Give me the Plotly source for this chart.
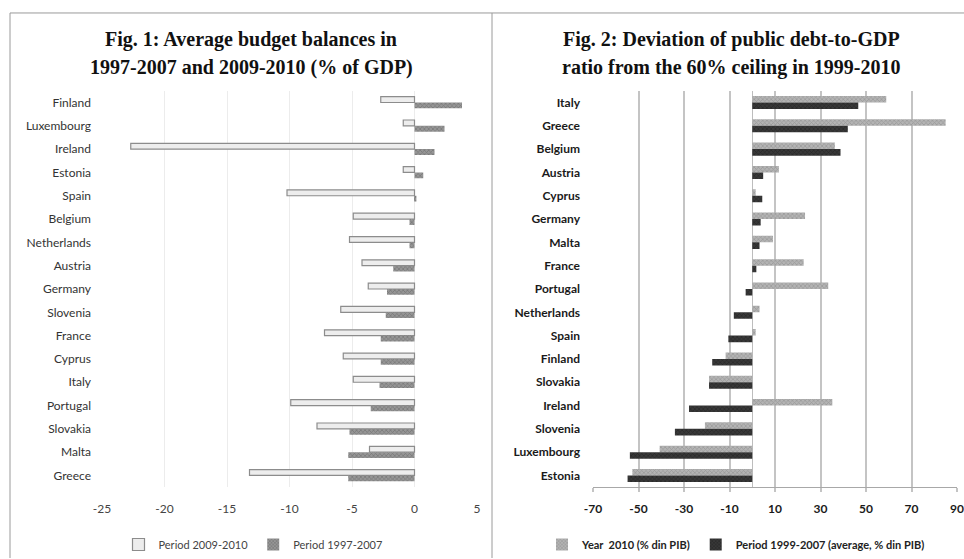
import plotly.graph_objects as go

# ---------------- Data ----------------
# Fig. 1: Average budget balances (% of GDP)
countries_fig1 = ["Finland", "Luxembourg", "Ireland", "Estonia", "Spain", "Belgium",
                  "Netherlands", "Austria", "Germany", "Slovenia", "France", "Cyprus",
                  "Italy", "Portugal", "Slovakia", "Malta", "Greece"]
balance_2009_2010 = [-2.7, -0.9, -22.7, -0.9, -10.2, -4.9, -5.2, -4.2, -3.7, -5.9,
                     -7.2, -5.7, -4.9, -9.9, -7.8, -3.6, -13.2]
balance_1997_2007 = [3.8, 2.4, 1.6, 0.7, 0.15, -0.4, -0.4, -1.7, -2.2, -2.3,
                     -2.7, -2.7, -2.8, -3.5, -5.2, -5.3, -5.3]

# Fig. 2: Deviation of public debt-to-GDP ratio from the 60% ceiling
countries_fig2 = ["Italy", "Greece", "Belgium", "Austria", "Cyprus", "Germany", "Malta",
                  "France", "Portugal", "Netherlands", "Spain", "Finland", "Slovakia",
                  "Ireland", "Slovenia", "Luxembourg", "Estonia"]
debt_dev_2010 = [58.9, 85.0, 36.3, 11.7, 1.5, 23.2, 9.1, 22.6, 33.4, 3.2,
                 1.5, -11.7, -19.0, 35.2, -20.8, -40.7, -52.7]
debt_dev_1999_2007 = [46.6, 42.0, 38.8, 4.8, 4.4, 3.7, 3.2, 1.8, -2.9, -8.1,
                      -10.5, -17.6, -19.0, -27.8, -34.0, -53.8, -54.8]

ticks_fig1 = [-25, -20, -15, -10, -5, 0, 5]
tick_labels_fig1 = ["-25", "-20", "-15", "-10", "-5", "0", "5"]
ticks_fig2 = [-70, -50, -30, -10, 10, 30, 50, 70, 90]
tick_labels_fig2 = ["-70", "-50", "-30", "-10", "10", "30", "50", "70", "90"]

# ---------------- Geometry ----------------
W, H = 964, 559
def px_x(p):
    return p / W
def px_y(p):
    return 1 - p / H

plot_top, plot_bot = 91, 488
left_dom = [px_x(102), px_x(477)]
right_dom = [px_x(593), px_x(957)]
y_dom = [px_y(plot_bot), px_y(plot_top)]

fig = go.Figure()

# Fig. 1 traces
fig.add_trace(go.Bar(
    y=countries_fig1, x=balance_2009_2010, orientation="h",
    name="Period 2009-2010", xaxis="x", yaxis="y", legend="legend",
    width=0.25, offset=-0.25,
    marker=dict(color="#ededed", line=dict(color="#8c8c8c", width=1.2)),
))
fig.add_trace(go.Bar(
    y=countries_fig1, x=balance_1997_2007, orientation="h",
    name="Period 1997-2007", xaxis="x", yaxis="y", legend="legend",
    width=0.25, offset=0.0,
    marker=dict(color="#969696", line=dict(width=0),
                pattern=dict(shape="x", fgcolor="#555555", size=3, solidity=0.4)),
))

# Fig. 2 traces
fig.add_trace(go.Bar(
    y=countries_fig2, x=debt_dev_2010, orientation="h",
    name="Year  2010 (% din PIB)", xaxis="x2", yaxis="y2", legend="legend2",
    width=0.28, offset=-0.28,
    marker=dict(color="#b4b4b4", line=dict(width=0),
                pattern=dict(shape="x", fgcolor="#7a7a7a", size=3, solidity=0.4)),
))
fig.add_trace(go.Bar(
    y=countries_fig2, x=debt_dev_1999_2007, orientation="h",
    name="Period 1999-2007 (average, % din PIB)", xaxis="x2", yaxis="y2", legend="legend2",
    width=0.28, offset=0.0,
    marker=dict(color="#383838", line=dict(width=0),
                pattern=dict(shape="x", fgcolor="#151515", size=3, solidity=0.4)),
))

label_font = dict(family="Lato", size=12, color="#333333")
bold_font = dict(family="Lato", size=12, color="#1a1a1a", weight="bold")

fig.update_layout(
    width=W, height=H,
    margin=dict(l=0, r=0, t=0, b=0),
    paper_bgcolor="white", plot_bgcolor="white",
    barmode="overlay",
    xaxis=dict(domain=left_dom, anchor="y", range=[-25, 5],
               tickvals=ticks_fig1, ticktext=tick_labels_fig1, automargin=False,
               showgrid=True, gridcolor="#ececec", gridwidth=1,
               zeroline=False, showline=False, ticks="",
               ticklabelstandoff=13, tickfont=dict(family="Lato", size=12, color="#444444")),
    yaxis=dict(domain=y_dom, anchor="x", categoryorder="array", categoryarray=countries_fig1,
               autorange="reversed", showgrid=False, zeroline=False, showline=False,
               automargin=False,
               ticks="", ticklabelstandoff=10, tickfont=label_font),
    xaxis2=dict(domain=right_dom, anchor="y2", range=[-70, 90],
                tickvals=ticks_fig2, ticktext=tick_labels_fig2, automargin=False,
                showgrid=True, gridcolor="#c4c4c4", gridwidth=2,
                zeroline=True, zerolinecolor="#bdbdbd", zerolinewidth=1,
                showline=True, linecolor="#a8a8a8", linewidth=1,
                ticks="outside", ticklen=4, tickcolor="#c4c4c4", tickwidth=2,
                ticklabelstandoff=6, tickfont=bold_font),
    yaxis2=dict(domain=y_dom, anchor="x2", categoryorder="array", categoryarray=countries_fig2,
                autorange="reversed", showgrid=False, zeroline=False, showline=False,
                automargin=False,
                ticks="", ticklabelstandoff=12, tickfont=bold_font),
    legend=dict(orientation="h", x=px_x(253), y=px_y(545), xanchor="center", yanchor="middle",
                font=dict(family="Lato", size=11, color="#444444"),
                itemwidth=30, tracegroupgap=0, bgcolor="rgba(0,0,0,0)"),
    legend2=dict(orientation="h", x=px_x(736), y=px_y(545), xanchor="center", yanchor="middle",
                 font=dict(family="Lato", size=11, color="#222222", weight="bold"),
                 itemwidth=30, tracegroupgap=0, bgcolor="rgba(0,0,0,0)"),
    showlegend=True,
)

title_font = dict(family="Liberation Serif", size=20, color="#111111", weight="bold")
titles = [
    ("Fig. 1: Average budget balances in", 251, 40),
    ("1997-2007 and 2009-2010 (% of GDP)", 251, 68),
    ("Fig. 2: Deviation of public debt-to-GDP", 731, 40),
    ("ratio from the 60% ceiling in 1999-2010", 731, 68),
]
for text, cx, cy in titles:
    fig.add_annotation(text=text, x=px_x(cx), y=px_y(cy), xref="paper", yref="paper",
                       xanchor="center", yanchor="middle", showarrow=False, font=title_font)

# Panel frame lines
frame = dict(type="line", xref="paper", yref="paper", line=dict(color="#9a9a9a", width=1))
fig.add_shape(**frame, x0=px_x(10), x1=1, y0=px_y(13), y1=px_y(13))
fig.add_shape(**frame, x0=px_x(10), x1=px_x(10), y0=px_y(13), y1=0)
fig.add_shape(**frame, x0=px_x(492), x1=px_x(492), y0=px_y(13), y1=0)

fig.write_html("out.html")
